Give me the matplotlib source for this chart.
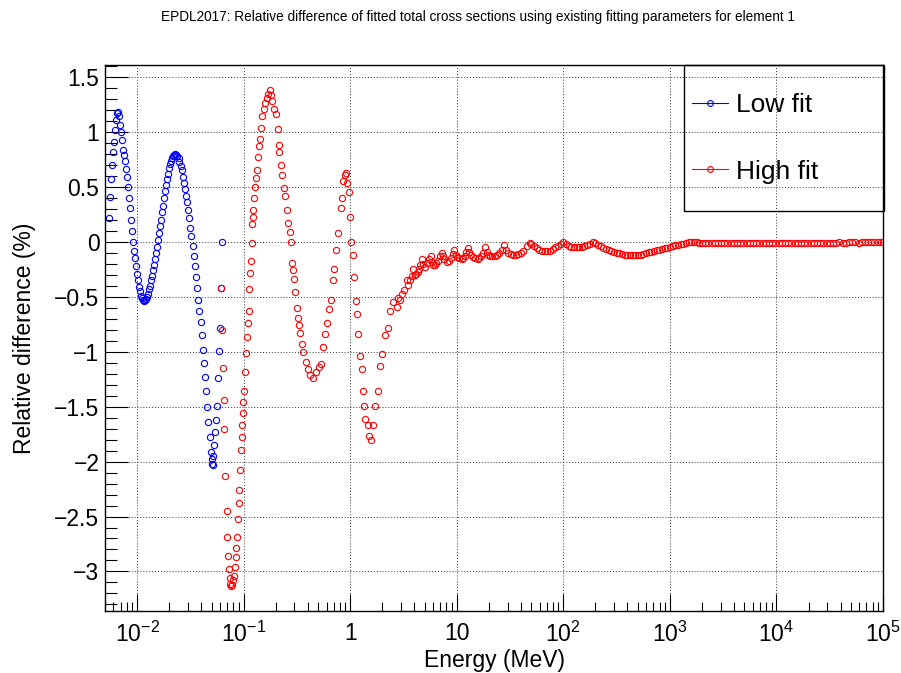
import matplotlib
matplotlib.use("Agg")
import matplotlib.pyplot as plt
from matplotlib.ticker import FixedLocator, LogLocator, MultipleLocator, FuncFormatter, NullFormatter
from matplotlib.patches import Rectangle

plt.rcParams["font.family"] = ["Liberation Sans", "DejaVu Sans"]
plt.rcParams["mathtext.fontset"] = "custom"
plt.rcParams["mathtext.rm"] = "Liberation Sans"
plt.rcParams["mathtext.it"] = "Liberation Sans:italic"
plt.rcParams["mathtext.default"] = "regular"

# Low fit (MeV, %)
low_energy = [
    0.00546, 0.00558, 0.00570, 0.00583, 0.00596, 0.00608, 0.00622, 0.00635, 0.00649, 0.00663,
    0.00678, 0.00693, 0.00708, 0.00723, 0.00739, 0.00755, 0.00771, 0.00788, 0.00805, 0.00823,
    0.00841, 0.00860, 0.00879, 0.00898, 0.00918, 0.00938, 0.00958, 0.00979, 0.0100, 0.0102,
    0.0104, 0.0107, 0.0109, 0.0111, 0.0114, 0.0116, 0.0119, 0.0121, 0.0124, 0.0127,
    0.0130, 0.0132, 0.0135, 0.0138, 0.0141, 0.0144, 0.0148, 0.0151, 0.0154, 0.0158,
    0.0161, 0.0165, 0.0168, 0.0172, 0.0176, 0.0180, 0.0184, 0.0188, 0.0192, 0.0196,
    0.0200, 0.0205, 0.0209, 0.0214, 0.0219, 0.0224, 0.0229, 0.0234, 0.0239, 0.0245,
    0.0250, 0.0256, 0.0262, 0.0268, 0.0274, 0.0280, 0.0287, 0.0294, 0.0301, 0.0308,
    0.0316, 0.0324, 0.0332, 0.0340, 0.0349, 0.0357, 0.0366, 0.0375, 0.0384, 0.0394,
    0.0404, 0.0414, 0.0424, 0.0434, 0.0445, 0.0456, 0.0467, 0.0479, 0.0491, 0.0500,
    0.0507, 0.0512, 0.0520, 0.0530, 0.0540, 0.0550, 0.0560, 0.0575, 0.0590, 0.0600,
    0.0615, 0.0622,
]
low_diff = [
    0.22, 0.41, 0.57, 0.70, 0.82, 0.91, 1.02, 1.11, 1.17, 1.18,
    1.15, 1.06, 1.00, 0.93, 0.84, 0.79, 0.74, 0.66, 0.59, 0.50,
    0.40, 0.31, 0.20, 0.10, 0.00, -0.08, -0.15, -0.22, -0.29, -0.35,
    -0.41, -0.45, -0.49, -0.51, -0.53, -0.535, -0.53, -0.52, -0.50, -0.47,
    -0.43, -0.40, -0.35, -0.31, -0.26, -0.21, -0.16, -0.10, -0.05, 0.02,
    0.08, 0.14, 0.20, 0.27, 0.33, 0.40, 0.46, 0.52, 0.57, 0.62,
    0.67, 0.71, 0.74, 0.76, 0.78, 0.79, 0.80, 0.79, 0.78, 0.76,
    0.73, 0.69, 0.65, 0.59, 0.54, 0.48, 0.42, 0.36, 0.29, 0.22,
    0.13, 0.05, -0.04, -0.13, -0.22, -0.32, -0.42, -0.53, -0.63, -0.73,
    -0.85, -0.98, -1.10, -1.23, -1.36, -1.50, -1.64, -1.78, -1.91, -1.98,
    -2.02, -2.03, -1.95, -1.85, -1.73, -1.62, -1.49, -1.24, -0.99, -0.78,
    -0.42, 0.00,
]

# High fit (MeV, %)
high_energy = [
    0.0615, 0.0633, 0.0642, 0.0656, 0.0660, 0.0666, 0.0695, 0.0705, 0.0720, 0.0735,
    0.0745, 0.0751, 0.0762, 0.0770, 0.0790, 0.0807, 0.0824, 0.0842, 0.0850, 0.0867,
    0.0885, 0.0905, 0.0912, 0.0925, 0.0938, 0.0958, 0.0972, 0.0986, 0.0993, 0.100,
    0.1021, 0.1052, 0.1074, 0.109, 0.1114, 0.113, 0.1154, 0.117, 0.1187, 0.1205,
    0.1213, 0.1222, 0.1248, 0.1275, 0.1304, 0.1331, 0.136, 0.139, 0.142, 0.145,
    0.1481, 0.1536, 0.159, 0.1649, 0.1709, 0.1772, 0.181, 0.1862, 0.1931, 0.2001,
    0.2089, 0.2135, 0.2165, 0.2229, 0.2293, 0.2411, 0.2463, 0.2535, 0.259, 0.2704,
    0.2763, 0.284, 0.2884, 0.2967, 0.3052, 0.3141, 0.3209, 0.3301, 0.3398, 0.3496,
    0.3622, 0.3813, 0.3975, 0.4178, 0.4489, 0.4824, 0.5072, 0.5297, 0.5564, 0.5848,
    0.6066, 0.6285, 0.6607, 0.6902, 0.7098, 0.7413, 0.7735, 0.8128, 0.836, 0.8549,
    0.8854, 0.912, 0.9376, 0.9795, 1.0, 1.028, 1.066, 1.089, 1.129, 1.170,
    1.188, 1.231, 1.284, 1.322, 1.361, 1.390, 1.462, 1.514, 1.570, 1.627,
    1.711, 1.837, 1.904, 1.988, 2.119, 2.277, 2.377, 2.50,
    2.73, 2.83, 2.95, 3.04, 3.20, 3.39, 3.51, 3.64, 3.78, 3.91,
    4.06, 4.18, 4.30, 4.42, 4.55, 4.69, 4.85, 5.04, 5.22, 5.45,
    5.69, 5.86, 6.03, 6.24, 6.43, 6.62, 6.90, 7.21, 7.42, 7.64,
    8.04, 8.45, 8.83, 9.15, 9.48, 9.82, 10.1, 10.5, 11.1, 11.5,
    11.9, 12.3, 12.7, 13.1, 13.6, 14.2, 14.8, 15.7, 16.3, 16.9,
    17.6, 18.4, 19.1, 19.8, 20.6, 21.5, 22.8, 23.8, 24.9, 26.4,
    27.9, 29.1, 30.4, 32.1, 33.9, 35.8, 37.8, 40.0, 42.1, 45.2,
    48.6, 50.1, 53.1, 56.2, 59.6, 63.1, 66.8, 70.8, 75.0, 79.4,
    84.1, 89.1, 94.4, 100, 106, 112, 119, 126, 133, 141,
    150, 158, 168, 178, 188, 200, 211, 224, 237, 251,
    266, 282, 299, 316, 335, 355, 376, 398, 422, 447,
    473, 501, 531, 562, 596, 631, 668, 708, 750, 794,
    841, 891, 944, 1000, 1060, 1120, 1190, 1260, 1330, 1410,
    1500, 1580, 1680, 1780, 1880,
    2000, 2140, 2290, 2460, 2630, 2820, 3020, 3240, 3470, 3720,
    3980, 4270, 4570, 4900, 5250, 5620, 6030, 6460, 6920, 7410,
    7940, 8510, 9120, 9770, 10500, 11200, 12000, 12900, 13800, 14800,
    15800, 17000, 18200, 19500, 20900, 22400, 24000, 25700, 27500, 29500,
    31600, 33900, 36300, 38900, 41700, 44700, 47900, 51300, 55000, 58900,
    63100, 67600, 72400, 77600, 83200, 89100, 95500, 100000,
]
high_diff = [
    -0.42, -0.80, -1.15, -1.44, -1.70, -2.13, -2.45, -2.69, -2.86, -2.98,
    -3.06, -3.11, -3.13, -3.12, -3.08, -3.04, -2.96, -2.79, -2.87, -2.69,
    -2.52, -2.38, -2.26, -2.08, -1.89, -1.78, -1.67, -1.56, -1.46, -1.36,
    -1.18, -1.01, -0.87, -0.74, -0.63, -0.43, -0.28, -0.17, -0.01, 0.16,
    0.23, 0.29, 0.40, 0.50, 0.58, 0.65, 0.77, 0.87, 0.94, 1.04,
    1.15, 1.21, 1.26, 1.31, 1.35, 1.38, 1.34, 1.28, 1.21, 1.16,
    1.03, 0.88, 0.82, 0.70, 0.61, 0.49, 0.42, 0.29, 0.17, 0.09,
    0.00, -0.19, -0.26, -0.34, -0.46, -0.60, -0.69, -0.76, -0.83, -0.93,
    -1.00, -1.09, -1.16, -1.21, -1.24, -1.18, -1.14, -1.11, -0.96, -0.84,
    -0.74, -0.61, -0.53, -0.35, -0.25, -0.07, 0.08, 0.31, 0.40, 0.55,
    0.61, 0.63, 0.54, 0.45, 0.23, 0.00, -0.12, -0.32, -0.54, -0.66,
    -0.84, -1.04, -1.16, -1.36, -1.49, -1.61, -1.67, -1.77, -1.80, -1.67,
    -1.49, -1.36, -1.13, -1.02, -0.85, -0.78, -0.63, -0.55,
    -0.59, -0.51, -0.53, -0.47, -0.44, -0.35, -0.39, -0.35, -0.31, -0.25,
    -0.30, -0.29, -0.27, -0.25, -0.21, -0.16, -0.20, -0.23, -0.19, -0.16,
    -0.13, -0.18, -0.21, -0.21, -0.19, -0.17, -0.13, -0.10, -0.13, -0.16,
    -0.18, -0.17, -0.15, -0.11, -0.07, -0.12, -0.14, -0.15, -0.16, -0.15,
    -0.13, -0.09, -0.06, -0.09, -0.12, -0.14, -0.15, -0.16, -0.15, -0.13,
    -0.10, -0.05, -0.09, -0.12, -0.13, -0.13, -0.13, -0.12, -0.10, -0.07,
    -0.03, -0.07, -0.10, -0.11, -0.12, -0.12, -0.11, -0.10, -0.08, -0.04,
    -0.01, -0.02, -0.04, -0.06, -0.07, -0.08, -0.085, -0.085, -0.08, -0.065,
    -0.05, -0.035, -0.015, -0.005, -0.02, -0.035, -0.045, -0.05, -0.05, -0.05,
    -0.045, -0.04, -0.03, -0.02, -0.005, -0.01, -0.025, -0.04, -0.055, -0.065,
    -0.075, -0.085, -0.09, -0.10, -0.105, -0.11, -0.115, -0.118, -0.12, -0.12,
    -0.12, -0.118, -0.115, -0.11, -0.105, -0.095, -0.09, -0.085, -0.078, -0.072,
    -0.065, -0.058, -0.052, -0.045, -0.04, -0.032, -0.025, -0.02, -0.015, -0.008,
    -0.003, 0.0, 0.0, -0.003, -0.008,
    -0.01, -0.012, -0.01, -0.008, -0.01, -0.012, -0.01, -0.009, -0.011, -0.012,
    -0.01, -0.008, -0.01, -0.012, -0.011, -0.009, -0.01, -0.012, -0.01, -0.008,
    -0.01, -0.011, -0.012, -0.01, -0.009, -0.01, -0.011, -0.01, -0.008, -0.009,
    -0.01, -0.009, -0.008, -0.01, -0.009, -0.007, -0.008, -0.009, -0.007, -0.006,
    -0.007, -0.008, -0.006, -0.005, -0.006, -0.007, -0.005, -0.004, -0.005, -0.006,
    -0.004, -0.003, -0.004, -0.005, -0.003, -0.002, -0.003, -0.002,
]

x_major = [1e-2, 1e-1, 1, 10, 1e2, 1e3, 1e4, 1e5]
x_labels = ["$10^{-2}$", "$10^{-1}$", "1", "10", "$10^{2}$", "$10^{3}$", "$10^{4}$", "$10^{5}$"]

W, H = 901, 673
fig = plt.figure(figsize=(W / 100, H / 100), dpi=100)
ax = fig.add_axes([105 / W, 1 - 611 / H, 778 / W, 546 / H])

ax.plot(low_energy, low_diff, ls="none", marker="o", ms=4.5, mfc="none", mec="blue", mew=0.8)
ax.plot(high_energy, high_diff, ls="none", marker="o", ms=4.5, mfc="none", mec="red", mew=0.8)

ax.set_xscale("log")
ax.set_xlim(0.005, 1e5)
ax.set_ylim(-3.36, 1.61)

ax.xaxis.set_major_locator(FixedLocator(x_major))
ax.xaxis.set_major_formatter(FuncFormatter(lambda v, p: x_labels[x_major.index(v)] if v in x_major else ""))
ax.xaxis.set_minor_locator(LogLocator(base=10, subs=range(2, 10), numticks=20))
ax.xaxis.set_minor_formatter(NullFormatter())
ax.yaxis.set_major_locator(MultipleLocator(0.5))
ax.yaxis.set_minor_locator(MultipleLocator(0.1))
ax.yaxis.set_major_formatter(FuncFormatter(lambda v, p: ("%g" % v).replace("-", "\u2212")))

ax.tick_params(axis="x", which="major", direction="in", length=12.5, width=0.8, labelsize=16.5, pad=8)
ax.tick_params(axis="x", which="minor", direction="in", length=6.5, width=0.8)
ax.tick_params(axis="y", which="major", direction="in", length=16.5, width=0.8, labelsize=16.5, pad=4)
ax.tick_params(axis="y", which="minor", direction="in", length=8.5, width=0.8)

ax.grid(True, which="major", ls=(0, (1, 2)), lw=0.7, color="#333333")
for s in ax.spines.values():
    s.set_linewidth(1.0)
    s.set_color("black")

# legend box + entries
ax.add_patch(Rectangle((579 / 778, 400 / 546), 200 / 778, 146 / 546, transform=ax.transAxes,
                       fill=False, ec="black", lw=1.0, clip_on=False, zorder=5))
h1, = ax.plot([], [], color="blue", lw=0.8, marker="o", ms=4.2, mfc="none", mew=0.8)
h2, = ax.plot([], [], color="red", lw=0.8, marker="o", ms=4.2, mfc="none", mew=0.8)
ax.legend([h1, h2], ["Low fit", "High fit"], loc="center left",
          bbox_to_anchor=((692 - 105) / 778, (611 - 138.5) / 546), frameon=False,
          fontsize=19, handlelength=1.35, handletextpad=0.3, labelspacing=1.6,
          borderpad=0, borderaxespad=0)

fig.text(478 / W, 1 - 17 / H,
         "EPDL2017: Relative difference of fitted total cross sections using existing fitting parameters for element 1",
         ha="center", va="center", fontsize=9.8)
fig.text(495 / W, 1 - 660 / H, "Energy (MeV)", ha="center", va="center", fontsize=16.5)
fig.text(25 / W, 1 - 338 / H, "Relative difference (%)", ha="center", va="center", rotation=90, fontsize=16.5)

fig.savefig("out.png", dpi=100)
